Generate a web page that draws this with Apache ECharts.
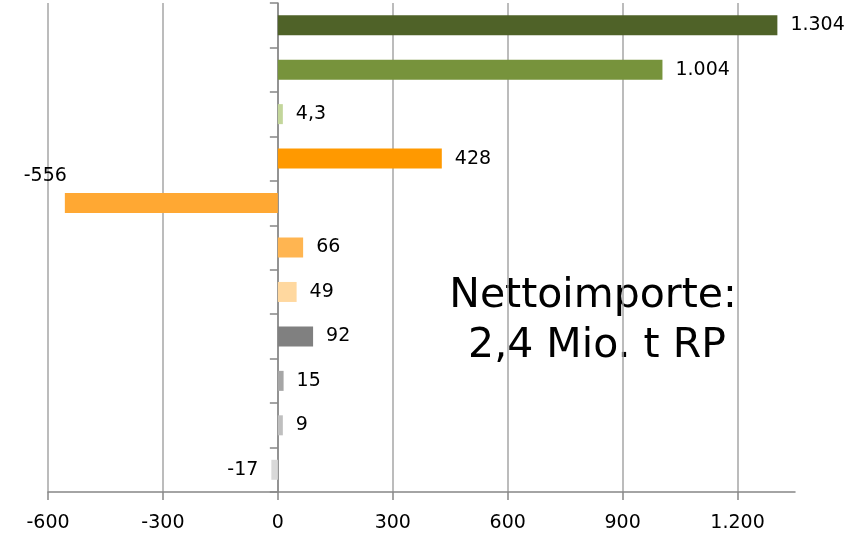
<!DOCTYPE html>
<html>
<head>
<meta charset="utf-8">
<script src="https://cdn.jsdelivr.net/npm/echarts@6/dist/echarts.min.js"></script>
<style>
  html, body { margin: 0; padding: 0; background: #fff; }
  #chart { width: 848px; height: 541px; }
</style>
</head>
<body>
<div id="chart"></div>
<script>
// Kategorien (Beschriftungen im Original abgeschnitten)
var categories = ['K1', 'K2', 'K3', 'K4', 'K5', 'K6', 'K7', 'K8', 'K9', 'K10', 'K11']
var values = [1304, 1004, 4.3, 428, -556, 66, 49, 92, 15, 9, -17]
var barColors = ['#4F6228', '#77933C', '#C3D69B', '#FF9900', '#FFA833', '#FFB551',
  '#FFD89F', '#808080', '#A6A6A6', '#BFBFBF', '#D9D9D9']
var tickValues = [-600, -300, 0, 300, 600, 900, 1200]
var noteLines = ['Nettoimporte:', '2,4 Mio. t RP']

// deutsche Zahlenformatierung
function fmt(v) {
  var neg = v < 0
  var parts = String(Math.abs(v)).split('.')
  var s = parts[0].replace(/\B(?=(\d{3})+(?!\d))/g, '.')
  if (parts[1]) s += ',' + parts[1]
  return (neg ? '-' : '') + s
}

var seriesData = []
for (var i = 0; i < values.length; i++) {
  var item = {
    value: values[i],
    itemStyle: { color: barColors[i] },
    label: { position: values[i] < 0 ? 'left' : 'right' }
  }
  if (values[i] === -556) {
    // Beschriftung sitzt im Original ueber dem Balken
    item.label = { position: 'left', distance: 2, offset: [4, -27] }
  }
  seriesData.push(item)
}

var chart = echarts.init(document.getElementById('chart'))
var option = {
  backgroundColor: '#fff',
  animation: false,
  grid: { left: 48, right: 53, top: 3, bottom: 49, containLabel: false, outerBoundsMode: 'none' },
  xAxis: {
    type: 'value',
    min: -600,
    max: 1350,
    interval: 300,
    axisLine: { show: true, lineStyle: { color: '#868686', width: 1.5 } },
    axisTick: { show: true, length: 8, customValues: tickValues, lineStyle: { color: '#868686', width: 1.5 } },
    axisLabel: {
      customValues: tickValues,
      margin: 22,
      color: '#000',
      fontFamily: 'DejaVu Sans',
      fontSize: 19,
      formatter: function (v) { return fmt(v) }
    },
    splitLine: { show: true, lineStyle: { color: '#A6A6A6', width: 1.5 } }
  },
  yAxis: {
    type: 'category',
    inverse: true,
    data: categories,
    axisLine: { show: true, onZero: true, lineStyle: { color: '#868686', width: 1.5 } },
    axisTick: { show: true, length: 8, lineStyle: { color: '#868686', width: 1.5 } },
    axisLabel: { show: false },
    splitLine: { show: false }
  },
  series: [
    {
      type: 'bar',
      barWidth: 20,
      barMinHeight: 5,
      data: seriesData,
      label: {
        show: true,
        distance: 13,
        color: '#000',
        fontFamily: 'DejaVu Sans',
        fontSize: 19,
        formatter: function (p) { return fmt(p.value) }
      }
    }
  ],
  graphic: [
    {
      type: 'group',
      z: 100,
      children: [
        { type: 'rect', shape: { x: 438, y: 257, width: 312, height: 123 }, style: { fill: '#fff' } },
        { type: 'text', x: 593, y: 296, style: { text: noteLines[0], font: '41px "DejaVu Sans"', fill: '#000', textAlign: 'center', textVerticalAlign: 'middle' } },
        { type: 'text', x: 597, y: 346, style: { text: noteLines[1], font: '41px "DejaVu Sans"', fill: '#000', textAlign: 'center', textVerticalAlign: 'middle' } }
      ]
    }
  ]
}
chart.setOption(option)
</script>
</body>
</html>
